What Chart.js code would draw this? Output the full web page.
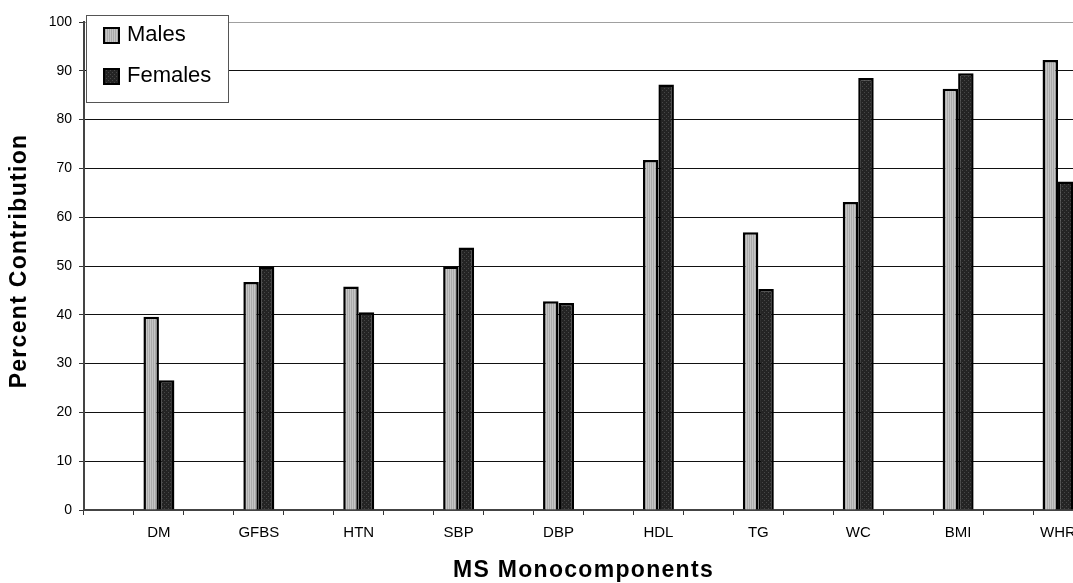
<!DOCTYPE html>
<html>
<head>
<meta charset="utf-8">
<script src="https://cdn.jsdelivr.net/npm/chart.js@4.4.1/dist/chart.umd.min.js"></script>
<style>
  html, body { margin: 0; padding: 0; background: #fff; overflow: hidden; }
  #msChart { display: block; }
</style>
</head>
<body>
<canvas id="msChart" width="1100" height="583" style="width:1100px;height:583px"></canvas>
<script>
const categories = ['DM', 'GFBS', 'HTN', 'SBP', 'DBP', 'HDL', 'TG', 'WC', 'BMI', 'WHR'];
const males   = [39.6, 46.7, 45.8, 49.9, 42.8, 71.7, 56.9, 63.1, 86.3, 92.2];
const females = [26.6, 49.9, 40.5, 53.8, 42.4, 87.2, 45.3, 88.5, 89.5, 67.3];
const seriesNames = ['Males', 'Females'];
const yMin = 0, yMax = 100, yStep = 10;
const xTitle = 'MS Monocomponents';
const yTitle = 'Percent Contribution';

const FONT = '"Liberation Sans", Arial, sans-serif';

// each category sits in every second slot of the axis, with an empty slot before it
const slotLabels = [];
const maleSlots = [];
const femaleSlots = [];
categories.forEach((c, i) => {
    slotLabels.push('');
    maleSlots.push(null);
    femaleSlots.push(null);
    slotLabels.push(c);
    maleSlots.push(males[i]);
    femaleSlots.push(females[i]);
});

function makePattern(bg, fg, kind) {
    const p = document.createElement('canvas');
    p.width = 4;
    p.height = 4;
    const c = p.getContext('2d');
    c.fillStyle = bg;
    c.fillRect(0, 0, 4, 4);
    c.fillStyle = fg;
    if (kind === 'stripes') {
        c.fillRect(1, 0, 1, 4);
        c.fillRect(3, 0, 1, 4);
    } else {
        c.fillRect(0, 0, 1, 1);
        c.fillRect(2, 2, 1, 1);
    }
    return c.createPattern(p, 'repeat');
}

const ctx = document.getElementById('msChart').getContext('2d');
const malePattern = makePattern('#c6c6c6', '#a9a9a9', 'stripes');
const femalePattern = makePattern('#242424', '#474747', 'dots');

const boxLegend = {
    id: 'boxLegend',
    afterDraw(chart) {
        const c = chart.ctx;
        c.save();
        c.fillStyle = '#fff';
        c.fillRect(86, 15, 142, 87);
        c.strokeStyle = '#555';
        c.lineWidth = 1;
        c.strokeRect(86.5, 15.5, 142, 87);
        c.font = '22px ' + FONT;
        c.textBaseline = 'middle';
        chart.data.datasets.forEach((ds, i) => {
            const y = 35 + i * 41;
            c.fillStyle = ds.backgroundColor;
            c.fillRect(104, y - 7, 15, 15);
            c.strokeStyle = '#000';
            c.lineWidth = 2;
            c.strokeRect(104, y - 7, 15, 15);
            c.fillStyle = '#000';
            c.fillText(ds.label, 127, y);
        });
        c.restore();
    }
};

const axisTitles = {
    id: 'axisTitles',
    afterDraw(chart) {
        const c = chart.ctx;
        const a = chart.chartArea;
        c.save();
        c.fillStyle = '#000';
        c.font = 'bold 23px ' + FONT;
        c.textAlign = 'center';
        c.textBaseline = 'middle';
        if ('letterSpacing' in c) c.letterSpacing = '1.3px';
        c.fillText(xTitle, (a.left + a.right) / 2, 571);
        c.translate(20, (a.top + a.bottom) / 2 - 5);
        c.rotate(-Math.PI / 2);
        c.fillText(yTitle, 0, 0);
        c.restore();
    }
};

new Chart(ctx, {
    type: 'bar',
    data: {
        labels: slotLabels,
        datasets: [
            {
                label: seriesNames[0],
                data: maleSlots,
                backgroundColor: malePattern,
                borderColor: '#000',
                borderWidth: 2.5,
                categoryPercentage: 0.62,
                barPercentage: 1.0
            },
            {
                label: seriesNames[1],
                data: femaleSlots,
                backgroundColor: femalePattern,
                borderColor: '#000',
                borderWidth: 2.5,
                categoryPercentage: 0.62,
                barPercentage: 1.0
            }
        ]
    },
    options: {
        responsive: false,
        animation: false,
        devicePixelRatio: 1,
        layout: { padding: { top: 22, right: 17, bottom: 0, left: 0 } },
        plugins: {
            legend: { display: false },
            tooltip: { enabled: false },
            title: { display: false }
        },
        scales: {
            x: {
                afterFit(scale) { scale.height = 73; },
                grid: {
                    drawOnChartArea: false,
                    drawTicks: true,
                    tickLength: 5,
                    color: '#333',
                    lineWidth: 1
                },
                border: { display: true, color: '#444', width: 2 },
                ticks: {
                    autoSkip: false,
                    maxRotation: 0,
                    padding: 9,
                    color: '#000',
                    font: { family: FONT, size: 15 }
                }
            },
            y: {
                min: yMin,
                max: yMax,
                afterFit(scale) { scale.width = 84; },
                grid: {
                    color: (c) => (c.tick && c.tick.value === yMax ? '#a0a0a0' : '#111'),
                    lineWidth: 1,
                    tickLength: 5,
                    tickColor: '#333'
                },
                border: { display: true, color: '#444', width: 2 },
                ticks: {
                    stepSize: yStep,
                    padding: 7,
                    color: '#000',
                    font: { family: FONT, size: 14 }
                }
            }
        }
    },
    plugins: [boxLegend, axisTitles]
});
</script>
</body>
</html>
